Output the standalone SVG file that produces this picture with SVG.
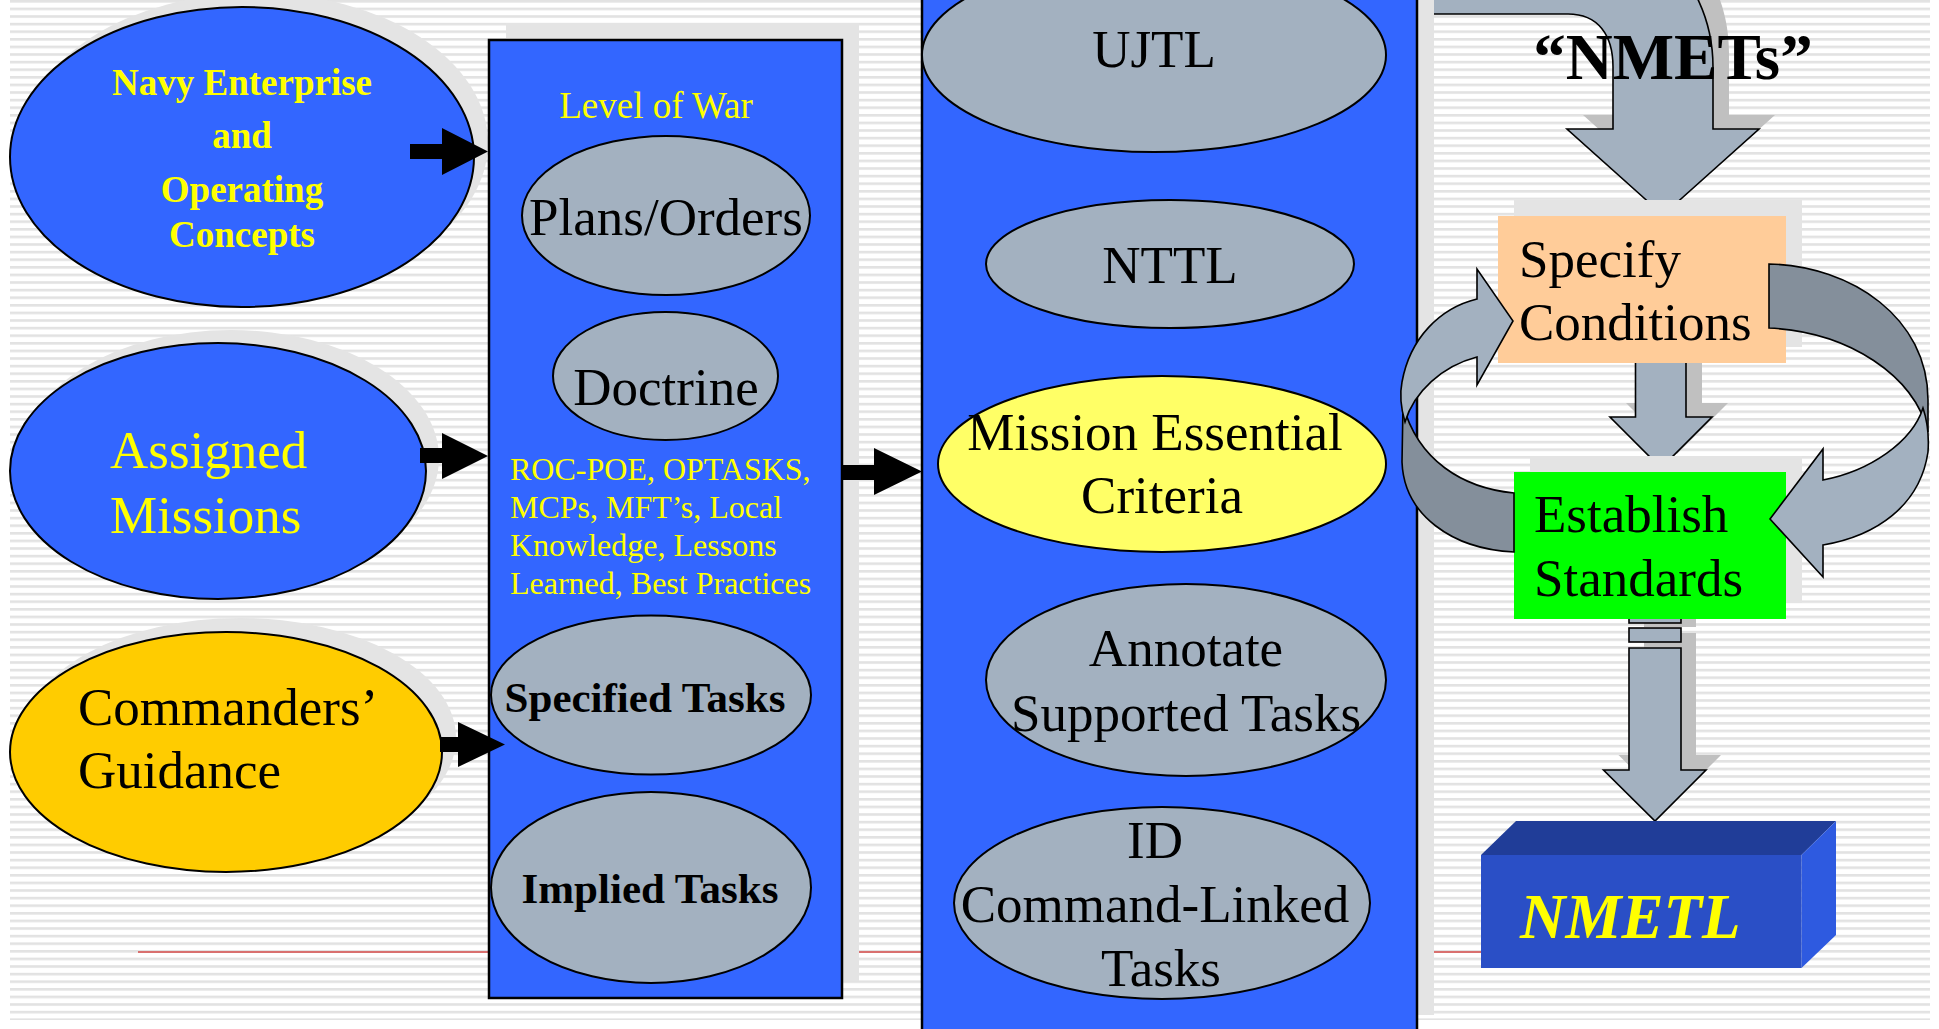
<svg xmlns="http://www.w3.org/2000/svg" width="1939" height="1029" viewBox="0 0 1939 1029">
<defs>
<pattern id="stripes" width="40" height="7.6" patternUnits="userSpaceOnUse">
<rect width="40" height="7.6" fill="#ffffff"/>
<rect width="40" height="2.6" fill="#e2e2e2"/>
</pattern>
<style>
text{font-family:"Liberation Serif","Times New Roman",serif}
.y{fill:#ffff00}
.k{fill:#000000}
.b{font-weight:bold}
.mid{text-anchor:middle}
.f53{font-size:53px}
.f37{font-size:37px}
.f32{font-size:32px}
.f43{font-size:43px}
.ol{stroke:#000000;stroke-width:2}
.sh{fill:#e4e4e4}
.shd{fill:#c0c0c0}
.gray{fill:#a3b1c0}
.dark{fill:#848f9b}
.garrow{stroke:#000000;stroke-width:1.6;stroke-linejoin:miter}
.barrow{fill:#000000}
</style>
</defs>
<rect width="1939" height="1029" fill="#ffffff"/>
<rect x="10" y="0" width="1920" height="1020" fill="url(#stripes)"/>
<line x1="138" y1="952" x2="1481" y2="952" stroke="#d9706f" stroke-width="2"/>

<g id="navy-enterprise">
<ellipse class="sh" cx="256" cy="143" rx="232" ry="150"/>
<ellipse cx="242" cy="157" rx="232" ry="150" fill="#3366ff" stroke="#000" stroke-width="2"/>
<text class="y b mid" font-size="37" x="242" y="95">Navy Enterprise</text>
<text class="y b mid" font-size="37" x="242" y="148">and</text>
<text class="y b mid" font-size="37" x="242" y="202">Operating</text>
<text class="y b mid" font-size="37" x="242" y="247">Concepts</text>
</g>

<g id="assigned-missions">
<ellipse class="sh" cx="231" cy="458" rx="208" ry="128"/>
<ellipse cx="218" cy="471" rx="208" ry="128" fill="#3366ff" stroke="#000" stroke-width="2"/>
<text class="y f53" x="110" y="468">Assigned</text>
<text class="y f53" x="110" y="533">Missions</text>
</g>

<g id="commanders-guidance">
<ellipse class="sh" cx="240" cy="738" rx="216" ry="120"/>
<ellipse cx="226" cy="752" rx="216" ry="120" fill="#ffcc00" stroke="#000" stroke-width="2"/>
<text class="k f53" x="78" y="725">Commanders’</text>
<text class="k f53" x="78" y="788">Guidance</text>
</g>

<g id="level-of-war-panel">
<rect class="sh" x="506" y="23" width="353" height="958"/>
<rect x="489" y="40" width="353" height="958" fill="#3366ff" stroke="#000" stroke-width="2.5"/>
<text class="y f37 mid" x="656" y="118">Level of War</text>
<text class="y f32" x="510" y="480">ROC-POE, OPTASKS,</text>
<text class="y f32" x="510" y="518">MCPs, MFT’s, Local</text>
<text class="y f32" x="510" y="556">Knowledge, Lessons</text>
<text class="y f32" x="510" y="594">Learned, Best Practices</text>
</g>

<g id="plans-orders">
<ellipse class="gray ol" cx="666" cy="215.5" rx="144" ry="79.5"/>
<text class="k f53 mid" x="666" y="235">Plans/Orders</text>
</g>
<g id="doctrine">
<ellipse class="gray ol" cx="665.5" cy="376" rx="112.5" ry="64"/>
<text class="k f53 mid" x="666" y="405">Doctrine</text>
</g>
<g id="specified-tasks">
<ellipse class="gray ol" cx="651" cy="695" rx="160" ry="79.5"/>
<text class="k b f43 mid" x="645" y="712">Specified Tasks</text>
</g>
<g id="implied-tasks">
<ellipse class="gray ol" cx="651" cy="887.5" rx="160" ry="95.5"/>
<text class="k b f43 mid" x="650" y="903">Implied Tasks</text>
</g>

<g id="nmets-arrow-top">
<path class="shd" transform="translate(16,-14)" d="M1433,-90 L1560,-90 C1630,-90 1713,-30 1713,67 L1713,129 L1759,129 L1663,215 L1567,129 L1613,129 L1613,67 C1613,35 1598,14 1568,14 L1433,14 Z"/>
<path class="gray garrow" d="M1433,-90 L1560,-90 C1630,-90 1713,-30 1713,67 L1713,129 L1759,129 L1663,215 L1567,129 L1613,129 L1613,67 C1613,35 1598,14 1568,14 L1433,14 Z"/>
</g>

<g id="tasks-panel">
<rect class="sh" x="939" y="-37" width="495" height="1052"/>
<rect x="922" y="-20" width="495" height="1052" fill="#3366ff" stroke="#000" stroke-width="2.5"/>
</g>
<g id="ujtl">
<ellipse class="gray ol" cx="1154" cy="55" rx="232" ry="97"/>
<text class="k f53 mid" x="1154" y="67">UJTL</text>
</g>
<g id="nttl">
<ellipse class="gray ol" cx="1170" cy="264" rx="184" ry="64"/>
<text class="k f53 mid" x="1170" y="283">NTTL</text>
</g>
<g id="mission-essential-criteria">
<ellipse cx="1162" cy="464" rx="224" ry="88" fill="#ffff66" stroke="#000" stroke-width="2"/>
<text class="k f53 mid" x="1155" y="450">Mission Essential</text>
<text class="k f53 mid" x="1162" y="513">Criteria</text>
</g>
<g id="annotate-supported-tasks">
<ellipse class="gray ol" cx="1186" cy="680" rx="200" ry="96"/>
<text class="k f53 mid" x="1186" y="666">Annotate</text>
<text class="k f53 mid" x="1186" y="731">Supported Tasks</text>
</g>
<g id="id-command-linked-tasks">
<ellipse class="gray ol" cx="1162" cy="903" rx="208" ry="96"/>
<text class="k f53 mid" x="1155" y="858">ID</text>
<text class="k f53 mid" x="1155" y="922">Command-Linked</text>
<text class="k f53 mid" x="1161" y="986">Tasks</text>
</g>

<g id="nmets-title">
<text class="k b mid" font-size="65" x="1673" y="79">“NMETs”</text>
</g>

<g id="connectors">
<path class="shd" transform="translate(16,-14)" d="M1635.5,350 H1686 V417 H1712 L1661,468 L1610,417 H1635.5 Z"/>
<path class="gray garrow" d="M1635.5,350 H1686 V417 H1712 L1661,468 L1610,417 H1635.5 Z"/>
<g transform="translate(15,-15)" class="shd">
<rect x="1629" y="610" width="52" height="13"/>
<rect x="1629" y="628" width="52" height="14"/>
<path d="M1629,648 H1681 V770 H1706 L1655,821 L1603.5,770 H1629 Z"/>
</g>
<rect class="gray garrow" x="1629" y="610" width="52" height="13"/>
<rect class="gray garrow" x="1629" y="628" width="52" height="14"/>
<path class="gray garrow" d="M1629,648 H1681 V770 H1706 L1655,821 L1603.5,770 H1629 Z"/>
</g>

<g id="specify-conditions">
<rect class="sh" x="1514" y="200" width="288" height="147"/>
<rect x="1498" y="216" width="288" height="147" fill="#ffcc99"/>
<text class="k f53" x="1519" y="277">Specify</text>
<text class="k f53" x="1519" y="340">Conditions</text>
</g>
<g id="establish-standards">
<rect class="sh" x="1530" y="456" width="272" height="147"/>
<rect x="1514" y="472" width="272" height="147" fill="#00ff00"/>
<text class="k f53" x="1534" y="532">Establish</text>
<text class="k f53" x="1534" y="596">Standards</text>
</g>

<g id="cycle-arrows">
<path class="dark garrow" d="M1514,493 C1462,488 1418,460 1403,405 L1402,462 C1404,515 1452,549 1514,552 Z"/>
<path class="gray garrow" d="M1477,299 L1477,269 L1513,321 L1477,385 L1477,357 C1442,366 1414,392 1405,422 C1400,405 1400,392 1402,382 C1410,338 1440,308 1477,299 Z"/>
<path class="dark garrow" d="M1769,264 C1852,266 1928,318 1928,400 L1928,432 C1914,376 1850,332 1769,328 Z"/>
<path class="gray garrow" d="M1923,408 C1927,420 1929,438 1928,452 C1920,506 1876,536 1823,545 L1823,577 L1770,519 L1823,449 L1823,480 C1870,471 1912,442 1923,408 Z"/>
</g>

<g id="nmetl">
<polygon points="1481,855 1516,821 1836,821 1801.5,855" fill="#203d98"/>
<polygon points="1801.5,855 1836,821 1836,935 1801.5,968" fill="#2e5ae0"/>
<rect x="1481" y="855" width="320.5" height="113" fill="#2a4fc6"/>
<text class="y b" font-style="italic" font-size="63" x="1520" y="938">NMETL</text>
</g>

<g id="input-arrows">
<path class="barrow" d="M410,144 H442 V128 L488,151.5 L442,175 V159 H410 Z"/>
<path class="barrow" d="M420,448 H442 V433 L488,456 L442,479 V463 H420 Z"/>
<path class="barrow" d="M440,737 H458 V722 L505,744.5 L458,767 V752 H440 Z"/>
<path class="barrow" d="M842,465 H874 V448 L922,471.5 L874,495 V480 H842 Z"/>
</g>
</svg>
